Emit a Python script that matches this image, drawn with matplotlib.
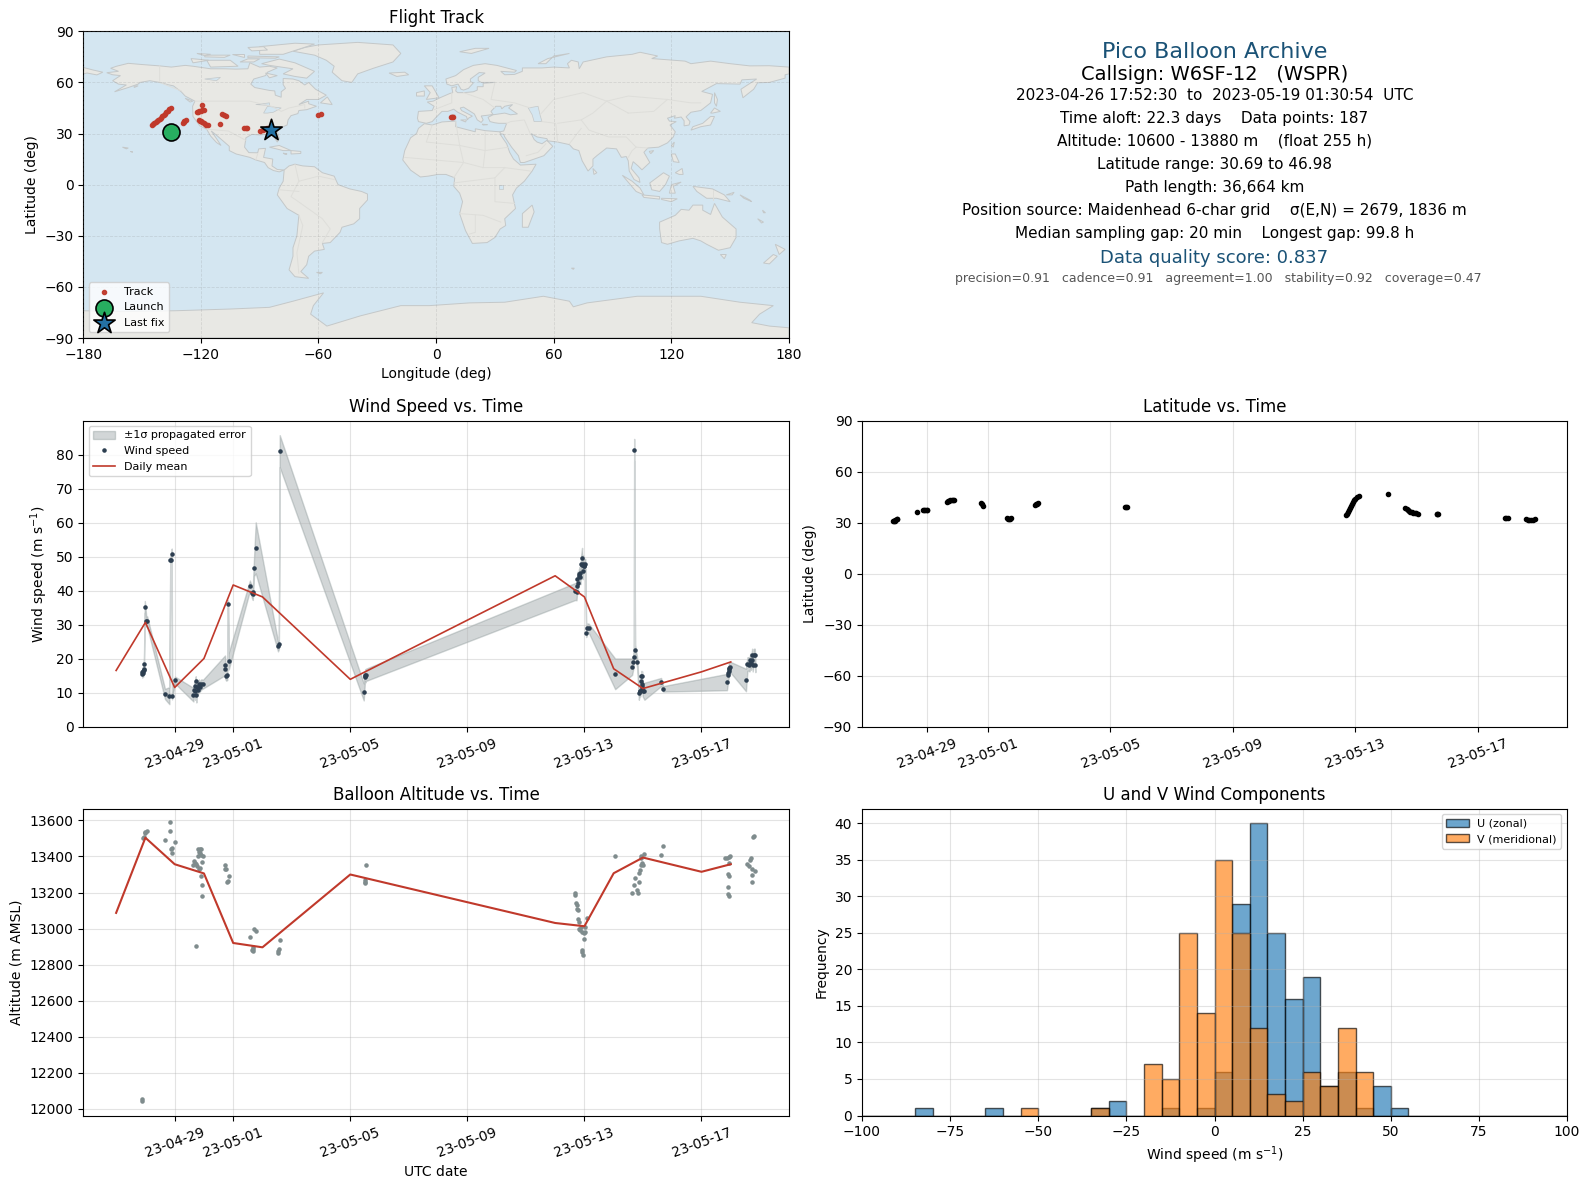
from datetime import datetime

import matplotlib
matplotlib.use("Agg")
import matplotlib.pyplot as plt
import matplotlib.dates as mdates
from matplotlib.patches import Polygon
import numpy as np

# ---- data ----
# times are days relative to 2023-05-01 00:00 UTC
mean_day = [-4, -3, -2, -1, 0, 1, 4, 11, 12, 13, 14, 16, 17]
mean_speed = [16.6, 30.7, 11.6, 20.1, 41.7, 38.2, 14.0, 44.4, 38.2, 17.1, 11.3, 16.2, 19.1]
mean_alt = [13087, 13504, 13357, 13306, 12920, 12896, 13300, 13031, 13013, 13307, 13394, 13315, 13357]

wind_day = [-3.11, -3.10, -3.09, -3.08, -3.06, -3.05, -3.05, -3.02, -2.97, -2.94, -2.33, -2.18, -2.15,
            -2.13, -2.10, -2.09, -1.99, -1.36, -1.34, -1.32, -1.30, -1.28, -1.26, -1.24, -1.21, -1.17,
            -1.15, -1.09, -1.03, -0.28, -0.27, -0.24, -0.20, -0.18, -0.15, 0.57, 0.65, 0.66, 0.67, 0.71,
            0.77, 1.53, 1.56, 1.59, 4.46, 4.50, 4.51, 4.52, 4.53, 11.69, 11.73, 11.75, 11.76, 11.78,
            11.81, 11.83, 11.84, 11.86, 11.89, 11.92, 11.925, 11.94, 11.95, 11.97, 11.98, 12.03, 12.06,
            12.10, 12.14, 13.05, 13.63, 13.67, 13.69, 13.70, 13.73, 13.80, 13.86, 13.89, 13.91, 13.94,
            13.95, 13.955, 13.96, 13.97, 13.975, 13.99, 14.05, 14.62, 14.69, 16.87, 16.91, 16.92, 16.93,
            16.935, 16.95, 16.97, 17.52, 17.57, 17.61, 17.64, 17.67, 17.69, 17.71, 17.73, 17.75, 17.79,
            17.82, 17.84]
wind_speed = [15.7, 16.1, 16.4, 15.9, 16.9, 16.7, 18.5, 35.3, 31.0, 31.0, 9.7, 9.2, 49.1,
              49.1, 50.9, 9.1, 13.8, 9.5, 11.0, 12.0, 10.5, 13.4, 9.5, 11.8, 10.8, 12.5,
              11.8, 12.5, 12.6, 18.1, 17.0, 15.1, 15.3, 36.2, 19.4, 41.5, 39.4, 39.6, 39.1, 46.8,
              52.6, 23.7, 24.3, 81.0, 10.3, 14.6, 15.2, 14.9, 15.3, 39.8, 39.7, 41.4, 43.6, 42.4,
              44.3, 44.8, 45.1, 43.9, 48.0, 49.6, 47.7, 45.9, 48.0, 47.3, 47.3, 47.9, 27.6,
              29.1, 29.1, 15.6, 17.7, 19.1, 20.7, 81.3, 22.6, 19.1, 10.0, 10.7, 10.5, 13.4,
              15.0, 12.7, 11.5, 14.9, 12.0, 10.5, 10.5, 13.2, 11.2, 13.2, 15.4, 15.9, 16.4,
              16.9, 17.4, 17.7, 13.8, 18.5, 18.5, 18.3, 19.6, 18.8, 19.6, 21.0, 18.3, 21.0,
              21.0, 18.1]
wind_err = [1.2, 1.2, 1.2, 1.2, 1.2, 1.2, 1.3, 1.7, 1.5, 1.5, 1.5, 2.5, 1.0,
            1.0, 1.5, 1.0, 1.0, 2.0, 1.5, 1.5, 2.5, 1.5, 2.3, 1.5, 1.5, 1.5,
            1.5, 1.5, 1.3, 2.9, 2.9, 1.5, 1.5, 1.0, 2.5, 1.5, 1.8, 1.8, 1.8, 2.5,
            7.5, 1.5, 1.5, 4.7, 2.5, 1.5, 1.8, 1.8, 1.8, 2.5, 2.5, 2.0, 2.0, 2.0,
            2.0, 2.0, 2.0, 2.0, 2.5, 3.0, 2.5, 2.5, 2.5, 2.0, 2.0, 1.5, 1.2,
            1.3, 1.3, 4.5, 2.4, 2.0, 2.0, 3.3, 1.5, 1.5, 2.0, 1.5, 1.5, 1.5,
            1.5, 1.5, 1.5, 1.5, 1.5, 1.5, 2.5, 1.2, 0.8, 2.4, 2.0, 2.0, 1.8,
            1.8, 1.5, 1.5, 3.3, 2.0, 2.0, 2.0, 2.0, 2.0, 2.0, 2.0, 2.0, 2.0,
            2.0, 2.0]

alt_day = [-3.12, -3.12, -3.09, -3.06, -3.03, -3.00, -2.95, -2.33, -2.16, -2.16, -2.13, -2.10, -2.10,
           -1.99, -1.36, -1.34, -1.32, -1.28, -1.26, -1.22, -1.21, -1.21, -1.17, -1.17, -1.15, -1.15,
           -1.13, -1.09, -1.09, -1.09, -1.07, -1.07, -1.07, -1.04, -0.28, -0.28, -0.26, -0.22, -0.18,
           -0.15, 0.57, 0.65, 0.66, 0.67, 0.69, 0.71, 0.77, 1.53, 1.54, 1.56, 1.59, 4.49, 4.49, 4.50,
           4.53, 11.68, 11.69, 11.72, 11.74, 11.76, 11.78, 11.79, 11.83, 11.83, 11.86, 11.87, 11.92,
           11.92, 11.93, 11.95, 11.98, 11.99, 12.03, 12.03, 12.09, 13.05, 13.64, 13.69, 13.73, 13.78,
           13.82, 13.86, 13.87, 13.89, 13.92, 13.95, 13.95, 13.97, 13.99, 14.04, 14.62, 14.69, 16.82,
           16.87, 16.91, 16.91, 16.92, 16.93, 16.93, 16.94, 16.95, 16.98, 17.54, 17.61, 17.67, 17.69,
           17.73, 17.73, 17.73, 17.76, 17.80, 17.82]
alt_m = [12052, 12043, 13504, 13509, 13528, 13537, 13541, 13489, 13589, 13539, 13439, 13448, 13417,
         13478, 13352, 13376, 13361, 12905, 13356, 13348, 13439, 13400, 13426, 13330, 13439, 13337,
         13417, 13439, 13407, 13289, 13367, 13239, 13178, 13400, 13350, 13330, 13328, 13256, 13265,
         13289, 12956, 12880, 12889, 12874, 12898, 12998, 12989, 12865, 12874, 12889, 12939, 13268, 13254, 13259,
         13350, 13200, 13189, 13144, 13130, 13111, 13102, 13054, 13037, 13000, 12991, 13009, 12981,
         12870, 12880, 12852, 12978, 12944, 13009, 12981, 13056, 13400, 13200, 13241, 13278, 13213,
         13200, 13306, 13256, 13324, 13352, 13402, 13389, 13361, 13352, 13415, 13406, 13456, 13389,
         13389, 13302, 13228, 13191, 13398, 13361, 13291, 13178, 13404, 13356, 13348, 13380, 13393,
         13330, 13296, 13256, 13506, 13515, 13319]

lat_day = [-3.10, -3.08, -3.05, -3.03, -2.99, -2.96, -2.32, -2.12, -2.09, -2.05, -2.00, -1.99, -1.33, -1.30,
           -1.27, -1.23, -1.19, -1.15, -1.10, -0.24, -0.21, -0.18, 0.62, 0.65, 0.68, 0.72, 0.76, 1.53,
           1.56, 1.60, 1.63, 4.47, 4.50, 4.54, 11.70, 11.73, 11.76, 11.79, 11.82, 11.85, 11.88, 11.91,
           11.95, 12.0, 12.05, 12.12, 13.08, 13.64, 13.68, 13.72, 13.76, 13.80, 13.85, 13.90, 13.95, 14.00,
           14.04, 14.66, 14.68, 14.70, 16.89, 16.94, 16.99, 17.57, 17.63, 17.69, 17.75, 17.81, 17.87]
lat_deg = [30.69, 30.9, 31.1, 31.4, 31.9, 32.4, 36.5, 37.4, 37.6, 37.6, 37.7, 37.7, 42.2, 42.7,
           43.0, 43.2, 43.5, 43.6, 43.6, 41.4, 41.2, 40.0, 32.8, 32.4, 31.9, 32.1, 32.7, 40.2,
           40.7, 41.2, 41.5, 39.2, 39.3, 39.2, 34.5, 35.3, 36.5, 37.6, 38.8, 40.0, 41.2, 42.3,
           43.1, 44.0, 44.9, 45.7, 46.98, 38.4, 38.0, 37.4, 36.9, 36.5, 36.1, 35.8, 35.5, 35.4,
           35.3, 35.3, 35.3, 35.3, 32.9, 32.9, 32.9, 31.9, 31.8, 31.8, 31.8, 31.8, 31.9]

track_lon = [-145.1, -144.4, -143.8, -143.1, -142.4, -141.7, -141.0, -140.4, -139.7, -139.0, -138.3, -137.6, -136.9,
             -136.0, -135.2, -129.2, -128.8, -128.4, -127.5, -122.1, -121.4, -120.7, -120.0, -119.3, -118.5, -119.5,
             -121.0, -120.4, -119.8, -119.2, -118.6, -118.0, -117.3, -116.1, -110.1, -109.1, -108.0, -107.0,
             -97.8, -97.0, -96.4, -89.9, -88.5, -87.5, -86.5, -60.0, -58.8, 7.5, 8.0, 8.5]
track_lat = [35.0, 35.5, 36.0, 36.5, 37.1, 37.8, 38.5, 39.3, 40.1, 40.9, 41.6, 42.5, 43.4,
             44.2, 44.9, 36.3, 36.9, 37.5, 37.9, 42.4, 42.8, 43.2, 43.5, 43.8, 44.0, 46.98,
             38.1, 37.6, 37.1, 36.7, 36.2, 35.7, 35.2, 34.8, 35.4, 41.2, 40.8, 40.3,
             33.2, 33.2, 33.2, 31.3, 31.9, 32.4, 33.0, 41.0, 41.6, 39.7, 39.7, 39.7]
launch_lon, launch_lat = [-135.4], [30.69]
last_lon, last_lat = [-84.1], [32.0]

hist_edges = list(range(-100, 105, 5))
u_counts = {-85: 1, -65: 1, -35: 1, -30: 2, -15: 1, -5: 1, 0: 6, 5: 29, 10: 40, 15: 25, 20: 16,
            25: 19, 30: 4, 35: 6, 40: 1, 45: 4, 50: 1}
v_counts = {-55: 1, -35: 1, -20: 7, -15: 5, -10: 25, -5: 14, 0: 35, 5: 25, 10: 12, 15: 3, 20: 2,
            25: 6, 30: 4, 35: 12, 40: 6}

date_ticks = [datetime(2023, 4, 29), datetime(2023, 5, 1), datetime(2023, 5, 5),
              datetime(2023, 5, 9), datetime(2023, 5, 13), datetime(2023, 5, 17)]

# coarse coastlines, lon/lat
land = {
    "north_america": [(-168, 65.7), (-162, 66.5), (-166, 68.3), (-163, 69.5), (-157, 71.2), (-150, 70.5), (-141, 69.7),
                      (-135, 69), (-128, 70), (-124, 69.5), (-115, 68), (-108, 68), (-102, 67.8), (-96, 68), (-95, 71.5),
                      (-90, 69), (-85, 69.5), (-81, 68.5), (-86, 66), (-87, 64), (-93, 62), (-94.5, 59), (-92.5, 57),
                      (-85, 55.3), (-82.3, 55), (-82, 52.5), (-79, 51.3), (-79, 54.5), (-76.8, 56.5), (-78, 58.7),
                      (-78, 62.3), (-73, 62), (-70, 61), (-67, 58.5), (-65, 60), (-61.5, 56), (-56, 52.5), (-60, 50),
                      (-66, 50), (-70, 47), (-65, 49), (-65, 47.5), (-61, 46), (-66, 44), (-70, 43.5), (-70.5, 41.7),
                      (-74, 40.5), (-75.5, 38), (-76, 35), (-78, 34), (-81, 31.5), (-80, 27), (-81, 25), (-83, 28.5),
                      (-85, 29.7), (-90, 29.2), (-94, 29.5), (-97, 27.5), (-97.7, 22), (-95.5, 18.8), (-91, 18.7),
                      (-90.5, 21), (-87, 21.3), (-88, 16), (-83.3, 15), (-83.7, 11), (-81, 8.9), (-77.5, 8.6), (-80, 7.5),
                      (-83, 8.3), (-85.7, 10), (-87.5, 13), (-92, 14.5), (-95, 16), (-102, 18), (-105.5, 20),
                      (-105.5, 22.5), (-109, 26), (-112.5, 29.5), (-114.7, 31.5), (-112, 27), (-109.7, 23), (-112, 24.7),
                      (-115, 28.5), (-117, 32.5), (-120.5, 34.5), (-122, 36.8), (-124, 40), (-124.2, 46), (-123, 49),
                      (-128, 52), (-130, 54.5), (-134, 58), (-137, 58.7), (-140, 59.8), (-146, 61), (-151, 60), (-152, 59),
                      (-157, 57), (-164, 54.5), (-158, 58.5), (-162, 59), (-165, 61), (-161, 64), (-165, 64.5), (-168, 65.7)],
    "chukotka_east": [(-180, 68.8), (-175, 67.3), (-170, 66), (-173, 64.4), (-178, 65.5), (-180, 65)],
    "greenland": [(-73, 78.3), (-67, 80.5), (-60, 82), (-40, 83.5), (-22, 82), (-18, 77), (-22, 72), (-32, 68.3), (-40, 65),
                  (-43, 60), (-48, 61), (-53, 66), (-52, 69.5), (-56, 73), (-62, 76), (-73, 78.3)],
    "baffin": [(-80, 73.7), (-72, 71.5), (-67, 69), (-62, 66.5), (-66, 62.5), (-72, 63.5), (-78, 65), (-73, 68), (-85, 70), (-89, 71), (-80, 73.7)],
    "victoria": [(-117, 73), (-105, 73), (-101, 69.5), (-115, 69), (-117, 73)],
    "banks": [(-125, 74), (-116, 73), (-124, 71.5), (-125, 74)],
    "ellesmere": [(-90, 76.5), (-78, 76.5), (-62, 82.5), (-72, 83), (-90, 81), (-90, 76.5)],
    "devon": [(-96, 75.5), (-80, 75), (-82, 74.2), (-96, 74.5), (-96, 75.5)],
    "melville": [(-118, 76), (-105, 76), (-108, 74.7), (-118, 75), (-118, 76)],
    "somerset": [(-96, 73.8), (-90, 73.8), (-93, 72), (-100, 72), (-96, 73.8)],
    "southampton": [(-87, 65.5), (-81, 64), (-85, 62.7), (-87, 65.5)],
    "axel_heiberg": [(-96, 80.5), (-88, 81), (-86, 79), (-94, 78.5), (-96, 80.5)],
    "prince_patrick": [(-122, 77), (-115, 76.5), (-118, 75.7), (-122, 77)],
    "bathurst": [(-104, 76.5), (-98, 76.5), (-98, 75), (-104, 76.5)],
    "vancouver": [(-128, 50.7), (-124, 49), (-125.5, 48.5), (-128, 50.7)],
    "kodiak": [(-154, 58), (-152, 58), (-154, 57), (-154, 58)],
    "hawaii": [(-156, 20), (-155, 20), (-155, 19), (-156, 20)],
    "oahu": [(-160, 22), (-157, 21.5), (-158, 21), (-160, 22)],
    "newfoundland": [(-59, 48), (-55.5, 51.5), (-53, 47), (-59, 48)],
    "cuba": [(-85, 22), (-80, 23), (-74, 20), (-78, 20), (-85, 22)],
    "hispaniola": [(-74, 20), (-69, 19.5), (-69, 18.3), (-74, 18), (-74, 20)],
    "jamaica": [(-78, 18.5), (-76, 18), (-77, 17.8), (-78, 18.5)],
    "south_america": [(-77.5, 8.6), (-75, 11), (-72, 12), (-68, 11), (-62, 10.5), (-58, 7), (-52, 5), (-50, 0), (-44, -2.5),
                      (-38, -4), (-35, -5.5), (-35, -9), (-39, -14), (-39, -20), (-42, -23), (-48, -25), (-49, -28),
                      (-54, -34), (-58, -34.5), (-57, -38), (-62, -39), (-65, -42), (-66, -47), (-69, -51), (-65, -55),
                      (-72, -54), (-75, -50), (-73, -42), (-73, -37), (-71, -30), (-70, -18), (-76, -14), (-81, -6),
                      (-80, -2), (-78, 2), (-77.5, 8.6)],
    "eurasia": [(-9, 37), (-9.5, 39), (-9, 43), (-2, 43.5), (-1, 46), (-4.5, 48.5), (-1.5, 49), (2, 51), (4, 52), (7, 53.5),
                (8.5, 54), (8, 57), (10.5, 57.5), (10, 55), (11, 54), (14, 54), (19, 54.5), (21, 55.5), (21, 57.5), (24, 57.5),
                (24, 59.5), (30, 60), (23, 60), (21.5, 61), (21.5, 63), (25, 65.5), (22, 65.8), (17.5, 62), (17.5, 60.5),
                (19, 59.7), (16.5, 56.5), (14, 55.5), (12.7, 56), (11.2, 59), (8, 58), (5.5, 59), (5, 62), (10, 64), (14, 67.5),
                (19, 70), (25, 71), (31, 70), (41, 67), (40, 66), (33, 66.5), (35, 64.5), (40, 64.7), (44, 66.5), (44, 68.5),
                (54, 68.5), (60, 69), (68, 68.5), (67, 71), (69, 73), (72.5, 72), (73, 68), (75, 72), (81, 73.5), (87, 75),
                (100, 76.5), (104, 77.7), (113, 75.5), (110, 74), (127, 72.5), (130, 71), (140, 72.5), (150, 71), (160, 69.7),
                (170, 69.8), (180, 69), (180, 65), (178, 64.5), (178, 62.5), (170, 60), (164, 59.8), (162, 56), (156.5, 51),
                (155.5, 56), (163.5, 62), (156, 61.5), (155, 59), (143, 59.3), (135.5, 54.7), (141, 53), (140, 48), (135, 43.5),
                (130, 42.5), (127.5, 39.8), (129.5, 37), (129, 35), (126.5, 34.5), (126.5, 37.5), (125, 39.7), (121.5, 39),
                (122, 40.5), (118, 39), (119, 37.3), (122.5, 37), (119.3, 35), (122, 31), (121, 28), (118, 24.5), (113.5, 22),
                (108, 21.5), (106, 19), (109, 13), (105, 8.7), (103, 11), (100.5, 13.5), (99.5, 9.5), (103.5, 4), (104, 1.3),
                (101, 3), (98.5, 8), (98, 14), (97, 16.5), (94.5, 16), (92, 21), (87, 21.5), (82, 17), (80, 15), (80, 11),
                (77.5, 8), (74.5, 14), (72.8, 20), (70, 21), (68, 23.5), (62, 25), (57, 25.7), (56.5, 27), (51.5, 28), (48.5, 30),
                (50, 26.5), (51.5, 25), (54, 24), (56.5, 26), (59.5, 22.5), (55, 17), (45, 13), (43, 13), (42, 17), (38.5, 22),
                (35, 28), (34.5, 29.5), (32.5, 30), (32.5, 31), (34.5, 31.5), (36, 36), (32, 36), (30, 36.3), (27.5, 37),
                (26.5, 39.5), (29, 41), (35, 42), (38, 41), (41.5, 41.5), (37, 45), (39, 47), (35, 46), (33.5, 44.5), (33, 46),
                (30.5, 46), (28, 43), (29, 41.2), (26, 40.7), (23, 40.3), (24, 38), (23, 36.5), (21, 38), (19.5, 41.5), (14, 45.5),
                (12.3, 45), (13, 43.5), (18.5, 40.2), (16.5, 39), (16, 38), (15.5, 40), (11, 42.5), (9, 44.3), (6, 43), (3, 43),
                (0, 39.5), (-2, 37), (-5, 36), (-9, 37)],
    "africa": [(-6, 35.8), (-2, 35), (3, 36.8), (10, 37.3), (10, 34), (15, 32.5), (20, 31), (20, 32.8), (25, 31.7), (32.5, 31),
               (33, 29), (36, 24), (37.5, 19), (39.5, 15), (43, 11.5), (51, 12), (49, 8), (45, 2), (41, -2), (39, -6), (40.5, -14),
               (35, -20), (35.5, -24), (32.7, -26), (30, -31), (26, -34), (18.5, -34.5), (15, -27), (12, -17), (13.5, -10),
               (12, -5), (9, -1), (9.5, 4), (5, 6), (1, 6), (-4, 5), (-8, 4.5), (-13, 8.5), (-17, 14.5), (-16, 20), (-13, 27.5),
               (-10, 30), (-9, 33), (-6, 35.8)],
    "madagascar": [(49, -12), (50, -16), (47, -25), (44, -25), (44, -17), (49, -12)],
    "britain": [(-5, 50), (1.5, 51), (0, 54), (-2, 58), (-6, 58), (-3, 54), (-5, 50)],
    "ireland": [(-10, 52), (-6, 52), (-6, 55), (-10, 54), (-10, 52)],
    "iceland": [(-24, 65.5), (-16, 66), (-14, 64.5), (-20, 63.5), (-24, 65.5)],
    "svalbard": [(12, 78), (20, 80), (27, 80), (18, 77), (12, 78)],
    "novaya": [(52, 71), (57, 74), (68, 77), (60, 75.5), (56, 71), (52, 71)],
    "sicily": [(12.5, 38), (15.5, 38), (15, 36.8), (12.5, 38)],
    "sardinia": [(8.3, 41), (9.7, 41), (9.5, 39), (8.5, 39), (8.3, 41)],
    "crete": [(23.5, 35.5), (26.2, 35.2), (24, 35), (23.5, 35.5)],
    "sakhalin": [(142, 54), (143.5, 50), (143, 46), (142, 48), (142, 54)],
    "japan": [(130, 32), (131, 34), (136, 36), (140, 40), (142, 40), (140, 35), (135, 34), (130, 32)],
    "hokkaido": [(140, 42), (142, 45), (145, 43), (141, 42), (140, 42)],
    "taiwan": [(120, 23), (121.5, 25), (121, 22), (120, 23)],
    "hainan": [(108.7, 19.5), (111, 20), (109.5, 18.2), (108.7, 19.5)],
    "luzon": [(120, 18), (122, 18), (124, 13), (121, 13.5), (120, 18)],
    "mindanao": [(122, 7), (125.5, 9.5), (126, 6), (124, 6), (122, 7)],
    "sri_lanka": [(80, 9.5), (82, 7), (80.5, 6), (80, 9.5)],
    "sumatra": [(95, 5.5), (100, 2), (104, -2), (106, -6), (102, -4), (95, 5.5)],
    "java": [(105, -6), (114, -7), (114, -8.5), (106, -7.5), (105, -6)],
    "lesser_sunda": [(115, -8), (123, -8.3), (120, -10), (115, -8.7), (115, -8)],
    "borneo": [(109, 1), (116, 7), (119, 5), (117, 0), (114, -4), (110, -3), (109, 1)],
    "sulawesi": [(119, -5), (120, 0), (125, 1.5), (121, -1), (122, -5), (119, -5)],
    "new_guinea": [(131, -1), (141, -2.5), (147, -6), (150, -10), (143, -8), (138, -8), (133, -4), (131, -1)],
    "new_britain": [(148, -6), (152, -4.5), (151, -6), (148, -6)],
    "solomons": [(155, -6), (160, -9), (161, -10), (157, -8), (155, -6)],
    "new_caledonia": [(164, -20), (167, -22), (166, -22.5), (164, -20)],
    "vanuatu": [(166.5, -15), (168, -16.5), (167, -16.5), (166.5, -15)],
    "australia": [(114, -22), (122, -18), (125, -14.5), (129, -15), (131, -12), (136, -12), (136, -15), (140, -17.5), (142, -11),
                  (146, -19), (153, -26), (153, -31), (150, -37), (144, -38.5), (138, -35), (135, -33), (131, -31.5),
                  (124, -33), (118, -35), (115, -34), (114, -26), (114, -22)],
    "tasmania": [(145, -41), (148, -41), (147, -43.5), (145, -41)],
    "nz_north": [(173, -35), (178, -38), (175, -41), (174, -38), (173, -35)],
    "nz_south": [(172, -41), (174, -42), (170, -46.5), (167, -46), (172, -41)],
    "kerguelen": [(69, -49), (70.5, -49), (70, -49.7), (69, -49)],
    "falkland": [(-61, -51.5), (-58, -51.5), (-59, -52.3), (-61, -51.5)],
    "antarctica": [(-180, -74), (-160, -74.5), (-133, -74), (-105, -73), (-85, -72), (-73, -68.4), (-57.4, -63.5), (-62.6, -71),
                   (-64, -76), (-55.7, -83), (-38.6, -77), (-18, -71), (-3.4, -71), (17, -69.4), (35, -69), (54.7, -65.5), (68, -68.4),
                   (70, -71.7), (77, -69.4), (102.6, -65.5), (135, -65.5), (155, -69), (172, -71), (165, -76), (161, -81),
                   (170, -83), (180, -84), (180, -90), (-180, -90)],
}
lakes = {
    "caspian": [(47, 45), (52, 46), (53, 41), (54, 37), (50, 37), (49, 41), (47, 45)],
    "superior": [(-92, 47), (-85, 48), (-85, 46.5), (-92, 47)],
    "michigan": [(-88, 42), (-86, 46), (-79, 45), (-83, 42.5), (-86, 42), (-88, 42)],
    "slave": [(-118, 62), (-110, 63), (-112, 61), (-118, 62)],
    "victoria_lake": [(32, 0), (34, 0), (34, -2.5), (32, -2.5), (32, 0)],
}
borders = [
    [(-141, 69.7), (-141, 60), (-130, 55)],
    [(-123, 49), (-95, 49), (-84, 46), (-79, 43), (-75, 45), (-67, 47), (-67, 45)],
    [(-117, 32.5), (-106, 31.5), (-97, 26)],
    [(-92, 14.5), (-91, 18)],
    [(-72, 12), (-70, 2), (-60, 5), (-52, 3)],
    [(-70, 2), (-74, -7), (-69, -11), (-58, -20), (-54, -26), (-58, -34)],
    [(-80, -3), (-70, -4)],
    [(-70, -18), (-68, -24), (-71, -40), (-70, -52)],
    [(-2, 35), (-5, 25), (12, 23), (25, 20), (25, 31)],
    [(10, 37), (12, 23), (14, 13), (9, 4)],
    [(-16, 16), (14, 13), (24, 10), (35, 10), (48, 8)],
    [(24, 10), (25, 20), (37, 22)],
    [(9, 1), (30, 4), (35, 10)],
    [(30, 4), (30, -10), (40, -11)],
    [(12, -17), (24, -18), (33, -22)],
    [(20, -18), (20, -28), (17, -29)],
    [(-1, 44), (8, 48), (8, 54)],
    [(14, 54), (24, 50), (30, 45)],
    [(30, 60), (28, 50), (40, 48), (48, 45)],
    [(53, 41), (60, 50), (75, 54), (87, 49), (98, 52), (118, 50), (130, 48), (135, 48)],
    [(87, 49), (80, 42), (74, 38), (78, 32), (88, 28), (97, 28), (102, 22), (108, 21.5)],
    [(98, 42), (87, 49)],
    [(98, 42), (111, 43), (118, 50)],
    [(48, 30), (45, 38), (38, 37), (36, 36)],
    [(62, 25), (61, 36), (54, 37)],
    [(74, 38), (62, 36)],
    [(68, 24), (74, 33)],
    [(98, 16), (100, 20), (102, 22)],
    [(46, 17), (52, 19), (56, 24)],
    [(141, -3), (141, -9)],
]

RED = "#c0392b"
DARK = "#2c3e50"
GREY = "#7f8c8d"
BLUE = "#1a5276"
T0 = mdates.date2num(datetime(2023, 5, 1))


def px_axes(fig, left, top, right, bottom):
    W, H = 1590.0, 1189.0
    return fig.add_axes([left / W, 1 - bottom / H, (right - left) / W, (bottom - top) / H])


def time_axis(ax, xlim):
    ax.set_xlim(T0 + xlim[0], T0 + xlim[1])
    ax.set_xticks(mdates.date2num(date_ticks))
    ax.xaxis.set_major_formatter(mdates.DateFormatter("%y-%m-%d"))
    ax.tick_params(axis="x", rotation=20)
    ax.grid(True, alpha=0.35)


fig = plt.figure(figsize=(15.9, 11.89), dpi=100)

# flight track map
ax_map = px_axes(fig, 83.2, 31.3, 789, 338)
ax_map.set_facecolor("#d4e6f1")
for name, pts in land.items():
    ax_map.add_patch(Polygon(pts, closed=True, facecolor="#e8e8e4", edgecolor="#c4c8c9", linewidth=0.7, zorder=1))
for name, pts in lakes.items():
    ax_map.add_patch(Polygon(pts, closed=True, facecolor="#d4e6f1", edgecolor="#c4c8c9", linewidth=0.5, zorder=1.1))
for line in borders:
    ax_map.plot([p[0] for p in line], [p[1] for p in line], color="#dededa", lw=0.7, zorder=1.2)
ax_map.scatter(track_lon, track_lat, s=9, color=RED, zorder=3, label="Track", alpha=0.95)
ax_map.scatter(launch_lon, launch_lat, s=150, color="#27ae60", edgecolor="black", linewidth=1.2, zorder=4, label="Launch")
ax_map.scatter(last_lon, last_lat, s=260, marker="*", color="#2471a3", edgecolor="black", linewidth=1.2, zorder=5, label="Last fix")
ax_map.set_xlim(-180, 180)
ax_map.set_ylim(-90, 90)
ax_map.set_xticks(range(-180, 181, 60))
ax_map.set_yticks(range(-90, 91, 30))
ax_map.grid(True, color="grey", alpha=0.2, linewidth=0.6, linestyle="--", zorder=2)
ax_map.set_axisbelow(False)
ax_map.set_xlabel("Longitude (deg)")
ax_map.set_ylabel("Latitude (deg)")
ax_map.set_title("Flight Track")
ax_map.legend(loc="lower left", fontsize=8)

# summary panel
ax_txt = px_axes(fig, 862, 31.3, 1567, 338)
ax_txt.axis("off")
cx = 1214.5
summary = [
    (52, cx, "Pico Balloon Archive", 16, BLUE),
    (74.5, cx, "Callsign: W6SF-12   (WSPR)", 14, "black"),
    (95.3, cx, "2023-04-26 17:52:30  to  2023-05-19 01:30:54  UTC", 11, "black"),
    (118.3, cx, "Time aloft: 22.3 days    Data points: 187", 11, "black"),
    (141.3, cx, "Altitude: 10600 - 13880 m    (float 255 h)", 11, "black"),
    (164.3, cx, "Latitude range: 30.69 to 46.98", 11, "black"),
    (187.3, cx, "Path length: 36,664 km", 11, "black"),
    (210.3, cx, "Position source: Maidenhead 6-char grid    σ(E,N) = 2679, 1836 m", 11, "black"),
    (233.3, cx, "Median sampling gap: 20 min    Longest gap: 99.8 h", 11, "black"),
    (257.7, cx, "Data quality score: 0.837", 13, BLUE),
    (278.8, cx + 4, "precision=0.91   cadence=0.91   agreement=1.00   stability=0.92   coverage=0.47", 9, "#555555"),
]
for y_px, x_px, line, size, colour in summary:
    fig.text(x_px / 1590, 1 - y_px / 1189, line, ha="center", va="center", fontsize=size, color=colour)

# wind speed
ax_wind = px_axes(fig, 83.2, 420.5, 789, 727)
t_wind = T0 + np.array(wind_day)
speed = np.array(wind_speed)
err = np.array(wind_err)
ax_wind.fill_between(t_wind, speed - err, speed + err, color=GREY, alpha=0.35, label="±1σ propagated error")
ax_wind.plot(t_wind, speed, ".", ms=4.5, color=DARK, label="Wind speed", zorder=3)
ax_wind.plot(T0 + np.array(mean_day), mean_speed, color=RED, lw=1.2, label="Daily mean", zorder=4)
time_axis(ax_wind, (-5.125, 18.99))
ax_wind.set_ylim(0, 90)
ax_wind.set_yticks(range(0, 90, 10))
ax_wind.set_ylabel("Wind speed (m s$^{-1}$)")
ax_wind.set_title("Wind Speed vs. Time")
ax_wind.legend(loc="upper left", fontsize=8)

# latitude
ax_lat = px_axes(fig, 862, 420.5, 1567, 727)
ax_lat.scatter(T0 + np.array(lat_day), lat_deg, s=9, color="black", zorder=3)
time_axis(ax_lat, (-4.12, 18.92))
ax_lat.set_ylim(-90, 90)
ax_lat.set_yticks(range(-90, 91, 30))
ax_lat.set_ylabel("Latitude (deg)")
ax_lat.set_title("Latitude vs. Time")

# altitude
ax_alt = px_axes(fig, 83.2, 808.7, 789, 1115.5)
ax_alt.plot(T0 + np.array(alt_day), alt_m, ".", ms=4.5, color=GREY, zorder=3)
ax_alt.plot(T0 + np.array(mean_day), mean_alt, color=RED, lw=1.5, zorder=4)
time_axis(ax_alt, (-5.125, 18.99))
ax_alt.set_ylim(11963, 13665)
ax_alt.set_yticks(range(12000, 13601, 200))
ax_alt.set_xlabel("UTC date")
ax_alt.set_ylabel("Altitude (m AMSL)")
ax_alt.set_title("Balloon Altitude vs. Time")

# wind components
ax_hist = px_axes(fig, 862, 808.7, 1567, 1115.5)
u_left = list(u_counts)
v_left = list(v_counts)
ax_hist.hist(u_left, bins=hist_edges, weights=list(u_counts.values()), color="#1f77b4", alpha=0.65,
             edgecolor="black", label="U (zonal)")
ax_hist.hist(v_left, bins=hist_edges, weights=list(v_counts.values()), color="#ff7f0e", alpha=0.65,
             edgecolor="black", label="V (meridional)")
ax_hist.set_xlim(-100, 100)
ax_hist.set_ylim(0, 42)
ax_hist.grid(True, alpha=0.35)
ax_hist.set_xlabel("Wind speed (m s$^{-1}$)")
ax_hist.set_ylabel("Frequency")
ax_hist.set_title("U and V Wind Components")
ax_hist.legend(loc="upper right", fontsize=8)

fig.savefig("out.png", dpi=100)
